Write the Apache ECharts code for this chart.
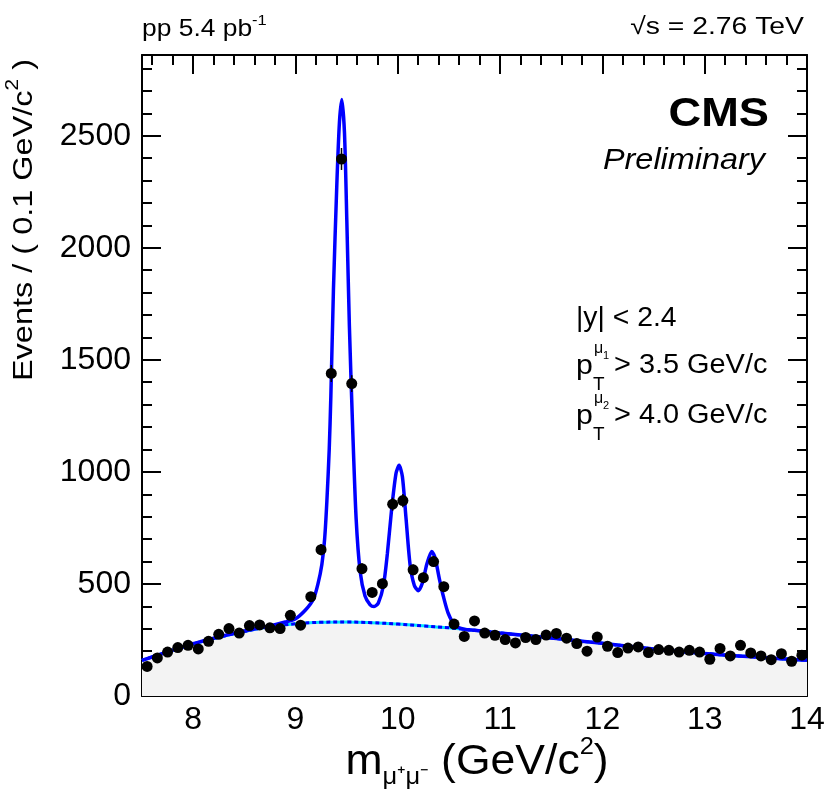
<!DOCTYPE html>
<html><head><meta charset="utf-8">
<script src="https://cdn.jsdelivr.net/npm/echarts@6/dist/echarts.min.js"></script>
<style>html,body{margin:0;padding:0;background:#fff}#c{width:829px;height:792px}</style>
</head><body><div id="c"></div>
<script>
// ---- data ----
const binCenters = [7.55,7.65,7.75,7.85,7.95,8.05,8.15,8.25,8.35,8.45,8.55,8.65,8.75,8.85,8.95,
  9.05,9.15,9.25,9.35,9.45,9.55,9.65,9.75,9.85,9.95,
  10.05,10.15,10.25,10.35,10.45,10.55,10.65,10.75,10.85,10.95,
  11.05,11.15,11.25,11.35,11.45,11.55,11.65,11.75,11.85,11.95,
  12.05,12.15,12.25,12.35,12.45,12.55,12.65,12.75,12.85,12.95,
  13.05,13.15,13.25,13.35,13.45,13.55,13.65,13.75,13.85,13.95];
const counts = [132,170,196,216,226,210,244,275,301,281,314,317,304,301,360,
  316,443,653,1439,2396,1394,568,462,501,856,
  872,563,528,600,488,321,266,335,281,271,
  252,237,261,252,272,279,258,234,200,263,
  222,194,214,219,194,207,204,196,204,196,
  164,212,179,226,192,179,162,189,155,182];
const fitMass = [7.5,7.75,8.0,8.25,8.5,8.75,8.9,9.0,9.1,
  9.176,9.22,9.258,9.285,9.307,9.33,9.346,9.371,9.404,9.43,
  9.453,9.479,9.502,9.527,9.56,9.593,9.632,9.68,9.73,9.768,
  9.81,9.86,9.898,9.941,9.983,10.013,10.045,10.081,10.12,10.162,
  10.201,10.244,10.283,10.332,10.364,10.406,10.445,10.494,10.56,10.65,
  10.75,11.0,11.25,11.5,11.75,12.0,12.25,12.5,12.75,13.0,
  13.25,13.5,13.75,14.0];
const fitTotal = [159,197,233,263,290,313,330,345,385,
  433,500,587,700,869,1100,1339,1809,2278,2561,
  2662,2514,2122,1652,1182,791,556,446,407,399,
  415,493,634,838,994,1029,979,791,587,493,
  470,509,587,645,618,524,446,368,315,298,
  293,281,270,259,247,235,222,210,199,190,
  181,174,166,159];
const bkgMass = [7.5,7.75,8.0,8.25,8.5,8.75,9.0,9.25,9.5,9.75,10.0,10.25,10.5,10.75,
  11.0,11.25,11.5,11.75,12.0,12.25,12.5,12.75,13.0,13.25,13.5,13.75,14.0];
const bkgValues = [159,197,232,262,288,309,322,329,330,327,321,313,304,293,
  281,270,259,247,235,222,210,199,190,181,174,166,159];
const xTickLabels = ['8','9','10','11','12','13','14'];
const yTickLabels = ['0','500','1000','1500','2000','2500'];

// ---- chart ----
const FF = "'Liberation Sans', Arial, Helvetica, sans-serif";
const chart = echarts.init(document.getElementById('c'), null, {renderer: 'canvas'});

const pair = (xs, ys) => xs.map((x, i) => [x, ys[i]]);

function axisCommon(showLabels, isX) {
  return {
    axisLine: {show: true, onZero: false, lineStyle: {color: '#000', width: 2}},
    axisTick: {show: true, inside: true, length: 19, lineStyle: {color: '#000', width: 2}},
    minorTick: {show: true, splitNumber: 5, length: 10, lineStyle: {color: '#000', width: 2}},
    splitLine: {show: false},
    minorSplitLine: {show: false},
    axisLabel: {
      show: showLabels, color: '#000', fontSize: 32, fontFamily: FF,
      margin: isX ? 8 : 11,
      formatter: v => {
        const s = String(v);
        return (isX ? xTickLabels : yTickLabels).includes(s) ? s : '';
      }
    }
  };
}

function txt(x, y, text, size, o = {}) {
  return {
    type: 'text', x, y, z: 100,
    rotation: o.rotation || 0,
    scaleX: o.scaleX || 1,
    style: {
      text, fontSize: size, fontFamily: FF, fill: '#000',
      fontWeight: o.weight || 'normal', fontStyle: o.style || 'normal',
      align: o.align || 'left', verticalAlign: 'middle',
      lineHeight: o.lineHeight, rich: o.rich
    }
  };
}

const supRich = (fs, lh) => ({
  sup: {fontSize: fs, fontFamily: FF, fill: '#000', verticalAlign: 'top', lineHeight: lh},
  sub: {fontSize: fs, fontFamily: FF, fill: '#000', verticalAlign: 'bottom', lineHeight: lh}
});

const option = {
  animation: false,
  backgroundColor: '#fff',
  grid: {left: 142, top: 55, width: 665, height: 641, containLabel: false},
  xAxis: [
    Object.assign({type: 'value', min: 7.5, max: 14, position: 'bottom'}, axisCommon(true, true)),
    Object.assign({type: 'value', min: 7.5, max: 14, position: 'top'}, axisCommon(false, true))
  ],
  yAxis: [
    Object.assign({type: 'value', min: 0, max: 2860, interval: 500, position: 'left'}, axisCommon(true, false)),
    Object.assign({type: 'value', min: 0, max: 2860, interval: 500, position: 'right'}, axisCommon(false, false))
  ],
  series: [
    {
      name: 'bkgFill', type: 'line', data: pair(bkgMass, bkgValues), smooth: 0.4,
      showSymbol: false, z: 1, silent: true,
      lineStyle: {color: '#00e5ff', width: 3},
      areaStyle: {color: '#f3f3f3', opacity: 1}
    },
    {
      name: 'bkgDash', type: 'line', data: pair(bkgMass, bkgValues), smooth: 0.4,
      showSymbol: false, z: 2, silent: true,
      lineStyle: {color: '#0000ff', width: 3, type: [4, 3]}
    },
    {
      name: 'fit', type: 'line', data: pair(fitMass, fitTotal), smooth: 0.25,
      showSymbol: false, z: 3, silent: true,
      lineStyle: {color: '#0000ff', width: 3.5}
    },
    {
      name: 'err', type: 'custom', z: 4, silent: true,
      data: binCenters.map((m, i) => [m, counts[i], Math.sqrt(counts[i])]),
      renderItem: (params, api) => {
        const x = api.value(0), y = api.value(1), e = api.value(2);
        const a = api.coord([x, y + e]);
        const b = api.coord([x, y - e]);
        return {type: 'line', shape: {x1: a[0], y1: a[1], x2: b[0], y2: b[1]},
                style: {stroke: '#000', lineWidth: 1.5}};
      }
    },
    {
      name: 'data', type: 'scatter', data: pair(binCenters, counts),
      symbol: 'circle', symbolSize: 11, z: 5, silent: true,
      itemStyle: {color: '#000', opacity: 1}
    }
  ],
  graphic: [
    txt(142, 29, 'pp 5.4 pb{sup|-1}', 24, {scaleX: 1.1, lineHeight: 32, rich: supRich(15, 15)}),
    txt(804, 27, '√s = 2.76 TeV', 24, {scaleX: 1.18, align: 'right'}),
    txt(769, 115, 'CMS', 40, {scaleX: 1.13, align: 'right', weight: 'bold'}),
    txt(765, 161, 'Preliminary', 30, {scaleX: 1.08, align: 'right', style: 'italic'}),
    txt(576, 319, '|y| < 2.4', 27, {scaleX: 1.05}),
    txt(576, 366, 'p', 28, {scaleX: 1.08}),
    txt(593, 385, 'T', 18, {scaleX: 1.05}),
    txt(594, 349, 'μ', 16),
    txt(603, 356, '1', 11),
    txt(614, 366, '> 3.5 GeV/c', 27, {scaleX: 1.07}),
    txt(576, 416, 'p', 28, {scaleX: 1.08}),
    txt(593, 435, 'T', 18, {scaleX: 1.05}),
    txt(594, 399, 'μ', 16),
    txt(603, 406, '2', 11),
    txt(614, 416, '> 4.0 GeV/c', 27, {scaleX: 1.07}),
    txt(24, 220, 'Events / ( 0.1 GeV/c{sup|2} )', 28,
        {rotation: Math.PI / 2, scaleX: 1.16, align: 'center', lineHeight: 40, rich: supRich(18, 18)}),
    txt(477, 762, 'm{sub|μ⁺μ⁻} (GeV/c{sup|2})', 42,
        {scaleX: 1.06, align: 'center', lineHeight: 54, rich: supRich(24, 24)})
  ]
};
chart.setOption(option);
</script>
</body></html>
